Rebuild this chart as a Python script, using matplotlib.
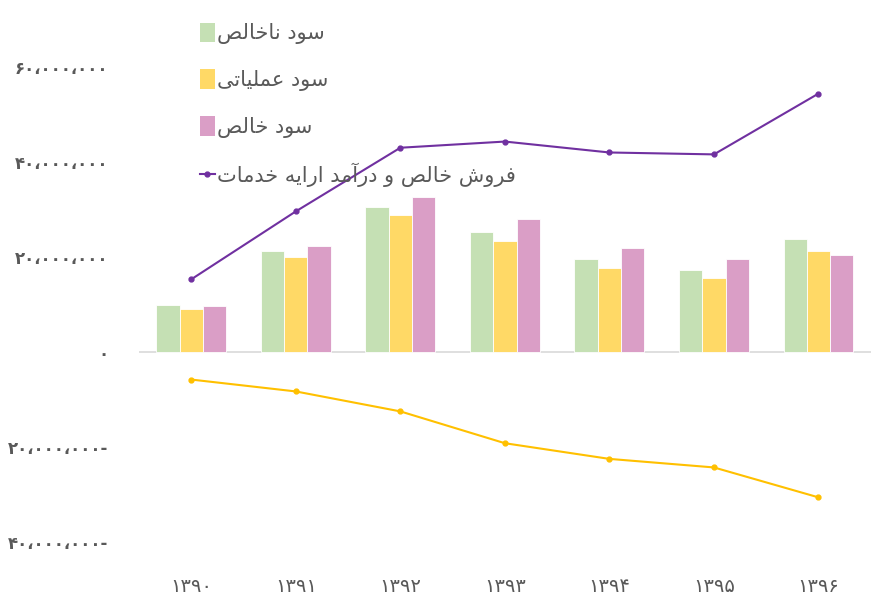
import matplotlib
matplotlib.use("Agg")
import matplotlib.pyplot as plt
from matplotlib.patches import Patch
from matplotlib.lines import Line2D
import numpy as np

# ---------------- data ----------------
years = ["۱۳۹۰", "۱۳۹۱", "۱۳۹۲", "۱۳۹۳", "۱۳۹۴", "۱۳۹۵", "۱۳۹۶"]
gross_profit = [9.8e6, 21.3e6, 30.5e6, 25.2e6, 19.5e6, 17.2e6, 23.7e6]
operating_profit = [9.1e6, 20.1e6, 28.8e6, 23.4e6, 17.7e6, 15.5e6, 21.2e6]
net_profit = [9.65e6, 22.4e6, 32.6e6, 27.9e6, 21.8e6, 19.5e6, 20.5e6]
net_sales = [15.3e6, 29.6e6, 43.0e6, 44.3e6, 42.0e6, 41.6e6, 54.4e6]
cost_of_sales = [-5.8e6, -8.3e6, -12.5e6, -19.2e6, -22.5e6, -24.3e6, -30.6e6]
yticks = [-40e6, -20e6, 0, 20e6, 40e6, 60e6]
ytick_labels = ["۴۰،۰۰۰،۰۰۰-", "۲۰،۰۰۰،۰۰۰-", "۰", "۲۰،۰۰۰،۰۰۰", "۴۰،۰۰۰،۰۰۰", "۶۰،۰۰۰،۰۰۰"]
labels = ["سود ناخالص", "سود عملیاتی", "سود خالص", "فروش خالص و درآمد ارایه خدمات"]

# ------------- minimal Persian shaping (visual order) -------------
FORMS = {
    'ا': ('\uFE8D', '\uFE8E', None, None),
    'آ': ('\uFE81', '\uFE82', None, None),
    'د': ('\uFEA9', '\uFEAA', None, None),
    'ر': ('\uFEAD', '\uFEAE', None, None),
    'و': ('\uFEED', '\uFEEE', None, None),
    'ت': ('\uFE95', '\uFE96', '\uFE97', '\uFE98'),
    'خ': ('\uFEA5', '\uFEA6', '\uFEA7', '\uFEA8'),
    'س': ('\uFEB1', '\uFEB2', '\uFEB3', '\uFEB4'),
    'ش': ('\uFEB5', '\uFEB6', '\uFEB7', '\uFEB8'),
    'ص': ('\uFEB9', '\uFEBA', '\uFEBB', '\uFEBC'),
    'ع': ('\uFEC9', '\uFECA', '\uFECB', '\uFECC'),
    'ف': ('\uFED1', '\uFED2', '\uFED3', '\uFED4'),
    'ل': ('\uFEDD', '\uFEDE', '\uFEDF', '\uFEE0'),
    'م': ('\uFEE1', '\uFEE2', '\uFEE3', '\uFEE4'),
    'ن': ('\uFEE5', '\uFEE6', '\uFEE7', '\uFEE8'),
    'ه': ('\uFEE9', '\uFEEA', '\uFEEB', '\uFEEC'),
    'ی': ('\uFEEF', '\uFEF0', '\uFEF3', '\uFEF4'),
}

def dual(c):
    return c in FORMS and FORMS[c][2] is not None

def shape(text):
    out = []
    for i, c in enumerate(text):
        if c not in FORMS:
            out.append(c)
            continue
        prev_j = i > 0 and dual(text[i - 1])
        next_j = dual(c) and i + 1 < len(text) and text[i + 1] in FORMS
        iso, fin, ini, med = FORMS[c]
        if prev_j and next_j:
            out.append(med)
        elif prev_j:
            out.append(fin)
        elif next_j:
            out.append(ini)
        else:
            out.append(iso)
    return ''.join(out)[::-1]

# ---------------- plot ----------------
plt.rcParams['font.family'] = ['DejaVu Sans']
fig = plt.figure(figsize=(8.87, 5.98), dpi=100)
ax = fig.add_axes([0.1567, 0.0936, 0.825, 0.7944])

x = np.arange(len(years))
w = 0.223
c_green, c_yellow, c_pink = '#C5E0B4', '#FFD966', '#DA9EC6'
c_purple, c_orange = '#7030A0', '#FFC000'

ax.bar(x - w, gross_profit, w, color=c_green, edgecolor='white', linewidth=0.6, zorder=2)
ax.bar(x, operating_profit, w, color=c_yellow, edgecolor='white', linewidth=0.6, zorder=2)
ax.bar(x + w, net_profit, w, color=c_pink, edgecolor='white', linewidth=0.6, zorder=2)
ax.plot(x, net_sales, color=c_purple, lw=1.5, marker='o', ms=3.5, zorder=3)
ax.plot(x, cost_of_sales, color=c_orange, lw=1.5, marker='o', ms=3.5, zorder=3)
ax.axhline(0, color='#D9D9D9', lw=1.2, zorder=1)

ax.set_xlim(-0.5, len(years) - 0.5)
ax.set_ylim(-40e6, 60e6)
ax.set_yticks(yticks)
ax.set_yticklabels(ytick_labels, color='#595959', fontsize=12, fontweight='bold')
ax.set_xticks(x)
ax.set_xticklabels(years, color='#595959', fontsize=14)
ax.tick_params(axis='both', length=0)
ax.tick_params(axis='x', pad=25)
ax.tick_params(axis='y', pad=22)
for s in ax.spines.values():
    s.set_visible(False)

handles = [Patch(facecolor=c_green), Patch(facecolor=c_yellow), Patch(facecolor=c_pink),
           Line2D([0], [0], color=c_purple, lw=1.5, marker='o', ms=3.5)]
leg = fig.legend(handles, [shape(t) for t in labels], loc='upper left',
                 bbox_to_anchor=(0.2255, 0.962), bbox_transform=fig.transFigure,
                 frameon=False, fontsize=15, handlelength=0.7, handleheight=1.05,
                 handletextpad=0.1, labelspacing=1.2, borderpad=0, borderaxespad=0)
for t in leg.get_texts():
    t.set_color('#595959')

fig.savefig('out.png', dpi=100, facecolor='white')
